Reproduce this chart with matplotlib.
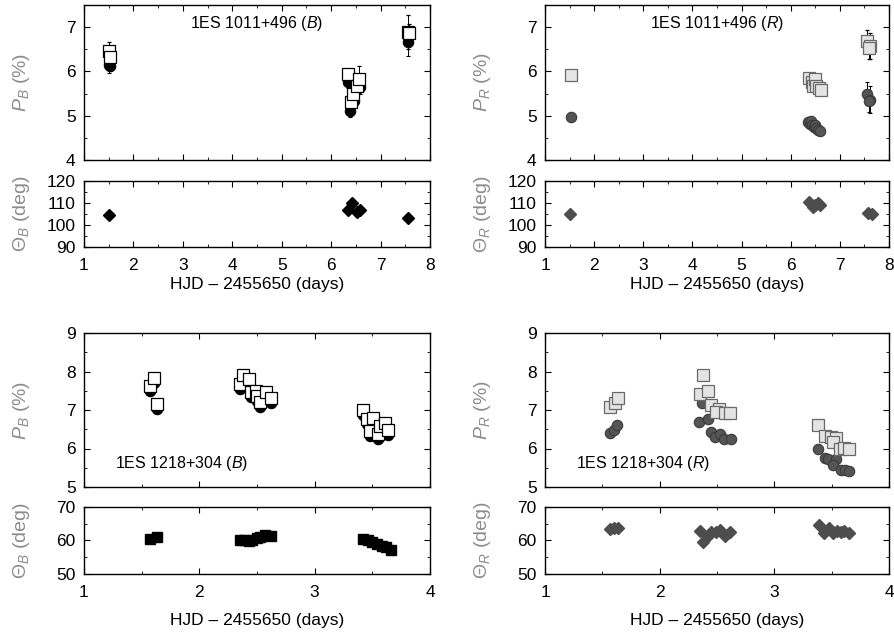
import numpy as np
import matplotlib
matplotlib.use('Agg')
import matplotlib.pyplot as plt
from matplotlib.ticker import MultipleLocator

plt.rcParams['font.family'] = ['Liberation Sans', 'DejaVu Sans']
plt.rcParams['mathtext.fontset'] = 'custom'
plt.rcParams['mathtext.rm'] = 'Liberation Sans'
plt.rcParams['mathtext.it'] = 'Liberation Sans:italic'

# ---------------- 1ES 1011+496, filtro B ----------------
t1_B_sq = [1.50, 1.52, 6.34, 6.40, 6.45, 6.53, 6.57, 7.56, 7.58]
p1_B_sq = [6.45, 6.33, 5.95, 5.30, 5.48, 5.68, 5.82, 6.89, 6.87]
e1_B_sq = [0.22, 0.12, 0.10, 0.10, 0.10, 0.12, 0.30, 0.38, 0.20]
t1_B_ci = [1.50, 1.52, 6.34, 6.38, 6.47, 6.59, 7.56]
p1_B_ci = [6.15, 6.13, 5.75, 5.11, 5.34, 5.64, 6.66]
e1_B_ci = [0.18, 0.12, 0.12, 0.15, 0.12, 0.15, 0.32]
t1_B_th = [1.51, 6.34, 6.42, 6.52, 6.58, 7.56]
th1_B = [104.5, 106.8, 110.0, 106.0, 106.8, 103.0]

# ---------------- 1ES 1011+496, filtro R ----------------
t1_R_sq = [1.53, 6.38, 6.44, 6.45, 6.50, 6.52, 6.58, 6.62, 7.56, 7.62, 7.60]
p1_R_sq = [5.93, 5.86, 5.75, 5.68, 5.82, 5.68, 5.62, 5.58, 6.68, 6.57, 6.52]
e1_R_sq = [0.08, 0.08, 0.08, 0.08, 0.08, 0.08, 0.08, 0.08, 0.25, 0.30, 0.25]
t1_R_ci = [1.53, 6.35, 6.40, 6.42, 6.44, 6.48, 6.50, 6.52, 6.56, 6.60, 7.56, 7.62, 7.60]
p1_R_ci = [4.98, 4.85, 4.82, 4.88, 4.78, 4.75, 4.80, 4.72, 4.68, 4.65, 5.50, 5.36, 5.34]
e1_R_ci = [0.05, 0.05, 0.05, 0.05, 0.05, 0.05, 0.05, 0.05, 0.05, 0.05, 0.25, 0.30, 0.25]
t1_R_th = [1.51, 6.38, 6.45, 6.50, 6.55, 6.60, 7.58, 7.66]
th1_R = [105.0, 110.5, 108.0, 109.0, 110.0, 109.0, 105.5, 105.0]

# ---------------- 1ES 1218+304, filtro B ----------------
t2_B_sq = [1.57, 1.61, 1.63, 2.35, 2.38, 2.43, 2.45, 2.49, 2.50, 2.53, 2.58, 2.62,
           3.42, 3.45, 3.51, 3.48, 3.55, 3.57, 3.61, 3.64]
p2_B_sq = [7.62, 7.83, 7.15, 7.68, 7.91, 7.81, 7.47, 7.50, 7.36, 7.20, 7.47, 7.31,
           7.00, 6.77, 6.79, 6.45, 6.38, 6.58, 6.66, 6.48]
t2_B_ci = t2_B_sq
p2_B_ci = [7.49, 7.71, 7.03, 7.55, 7.78, 7.68, 7.34, 7.37, 7.23, 7.07, 7.34, 7.18,
           6.87, 6.64, 6.66, 6.32, 6.25, 6.45, 6.53, 6.35]
e2_B = [0.10] * 20
t2_B_th = [1.57, 1.63, 2.35, 2.39, 2.43, 2.46, 2.50, 2.53, 2.57, 2.62,
           3.42, 3.46, 3.50, 3.54, 3.58, 3.62, 3.66]
th2_B = [60.5, 61.1, 60.2, 60.0, 59.9, 60.1, 60.6, 61.0, 61.5, 61.4,
         60.5, 60.0, 59.5, 59.0, 58.5, 58.0, 57.3]

# ---------------- 1ES 1218+304, filtro R ----------------
t2_R_sq = [1.57, 1.61, 1.64, 2.38, 2.35, 2.42, 2.45, 2.52, 2.49, 2.57, 2.61,
           3.38, 3.44, 3.49, 3.54, 3.51, 3.57, 3.61, 3.65]
p2_R_sq = [7.08, 7.18, 7.31, 7.91, 7.42, 7.49, 7.13, 7.03, 6.95, 6.92, 6.93,
           6.61, 6.33, 6.30, 6.27, 6.17, 5.99, 6.01, 5.99]
e2_R_sq = [0.05] * 19
t2_R_ci = [1.57, 1.60, 1.63, 2.37, 2.34, 2.42, 2.45, 2.48, 2.53, 2.56, 2.62,
           3.38, 3.44, 3.47, 3.54, 3.51, 3.58, 3.62, 3.65]
p2_R_ci = [6.40, 6.48, 6.60, 7.18, 6.69, 6.77, 6.43, 6.30, 6.37, 6.24, 6.24,
           5.99, 5.75, 5.72, 5.72, 5.57, 5.44, 5.44, 5.42]
e2_R_ci = [0.05] * 19
t2_R_th = [1.57, 1.60, 1.64, 2.35, 2.38, 2.42, 2.45, 2.49, 2.53, 2.57, 2.61,
           3.39, 3.43, 3.48, 3.51, 3.55, 3.58, 3.61, 3.65]
th2_R = [63.4, 63.7, 63.7, 62.8, 59.5, 61.2, 62.4, 62.4, 63.0, 61.2, 62.4,
         64.6, 62.2, 63.7, 62.2, 62.8, 62.4, 62.8, 62.2]

W, H = 894, 633
fig = plt.figure(figsize=(W / 100, H / 100), dpi=100)


def caja(px0, py0, px1, py1):
    # pixeles (arriba-izquierda) -> fraccion de figura
    return [px0 / W, 1 - py1 / H, (px1 - px0) / W, (py1 - py0) / H]


def estilo(ax, xmaj, xmin, ymaj, ymin):
    ax.xaxis.set_major_locator(MultipleLocator(xmaj))
    ax.xaxis.set_minor_locator(MultipleLocator(xmin))
    ax.yaxis.set_major_locator(MultipleLocator(ymaj))
    ax.yaxis.set_minor_locator(MultipleLocator(ymin))
    ax.tick_params(which='both', direction='in', top=True, right=True, labelsize=12.5)
    ax.tick_params(which='major', length=4, width=0.8)
    ax.tick_params(which='minor', length=2, width=0.6)
    ax.tick_params(axis='x', which='major', pad=8)
    ax.tick_params(axis='y', which='major', pad=6)
    for s in ax.spines.values():
        s.set_linewidth(1.0)


def panel(col, fila, filtro, gris, datos):
    px0, px1 = (84, 430) if col == 0 else (545, 889)
    if fila == 0:
        pP, pT = (5, 160), (181, 247)
    else:
        pP, pT = (333, 487), (507, 574)
    axP = fig.add_axes(caja(px0, pP[0], px1, pP[1]))
    axT = fig.add_axes(caja(px0, pT[0], px1, pT[1]))

    ts, ps, es, tc, pc, ec, tt, th = datos
    if gris:
        sq_fc, sq_ec, ci_fc, ci_ec, dm = '#e4e4e4', '#6a6a6a', '#555555', '#3a3a3a', '#4d4d4d'
    else:
        sq_fc, sq_ec, ci_fc, ci_ec, dm = 'white', 'black', 'black', 'black', 'black'

    axP.errorbar(tc, pc, yerr=ec, fmt='o', ms=7.5, mfc=ci_fc, mec=ci_ec, mew=0.8,
                 ecolor='black', elinewidth=0.7, capsize=1.5, zorder=2)
    axP.errorbar(ts, ps, yerr=es, fmt='s', ms=8, mfc=sq_fc, mec=sq_ec, mew=0.9,
                 ecolor='black', elinewidth=0.7, capsize=1.5, zorder=3)
    mk = 's' if (fila == 1 and not gris) else 'D'
    axT.plot(tt, th, mk, ms=6 if mk == 'D' else 7, color=dm, mec=dm)

    axP.set_ylabel(r'$P_{%s}$ (%%)' % filtro, fontsize=14, color='#8c8c8c')
    axT.set_ylabel(r'$\Theta_{%s}$ (deg)' % filtro, fontsize=14, color='#8c8c8c')
    for a in (axP, axT):
        a.yaxis.set_label_coords(-0.15, 0.5)
    axT.set_xlabel(u'HJD \u2013 2455650 (days)', fontsize=12.5,
                   labelpad=3 if fila == 0 else 9)

    if fila == 0:
        for a in (axP, axT):
            a.set_xlim(1, 8)
        estilo(axP, 1, 0.5, 1, 0.5)
        estilo(axT, 1, 0.5, 10, 5)
        axP.set_ylim(4, 7.5)
        axT.set_ylim(90, 120)
        axP.text(0.5, 0.88, r'1ES 1011+496 ($%s$)' % filtro, transform=axP.transAxes,
                 ha='center', va='center', fontsize=11.5)
    else:
        for a in (axP, axT):
            a.set_xlim(1, 4)
        estilo(axP, 1, 0.5, 1, 0.5)
        estilo(axT, 1, 0.5, 10, 5)
        axP.set_ylim(5, 9)
        axT.set_ylim(50, 70)
        axP.text(0.09, 0.15, r'1ES 1218+304 ($%s$)' % filtro, transform=axP.transAxes,
                 ha='left', va='center', fontsize=11.5)
    axP.tick_params(labelbottom=False)


panel(0, 0, 'B', False, (t1_B_sq, p1_B_sq, e1_B_sq, t1_B_ci, p1_B_ci, e1_B_ci, t1_B_th, th1_B))
panel(1, 0, 'R', True, (t1_R_sq, p1_R_sq, e1_R_sq, t1_R_ci, p1_R_ci, e1_R_ci, t1_R_th, th1_R))
panel(0, 1, 'B', False, (t2_B_sq, p2_B_sq, e2_B, t2_B_ci, p2_B_ci, e2_B, t2_B_th, th2_B))
panel(1, 1, 'R', True, (t2_R_sq, p2_R_sq, e2_R_sq, t2_R_ci, p2_R_ci, e2_R_ci, t2_R_th, th2_R))

fig.savefig('out.png', dpi=100)
